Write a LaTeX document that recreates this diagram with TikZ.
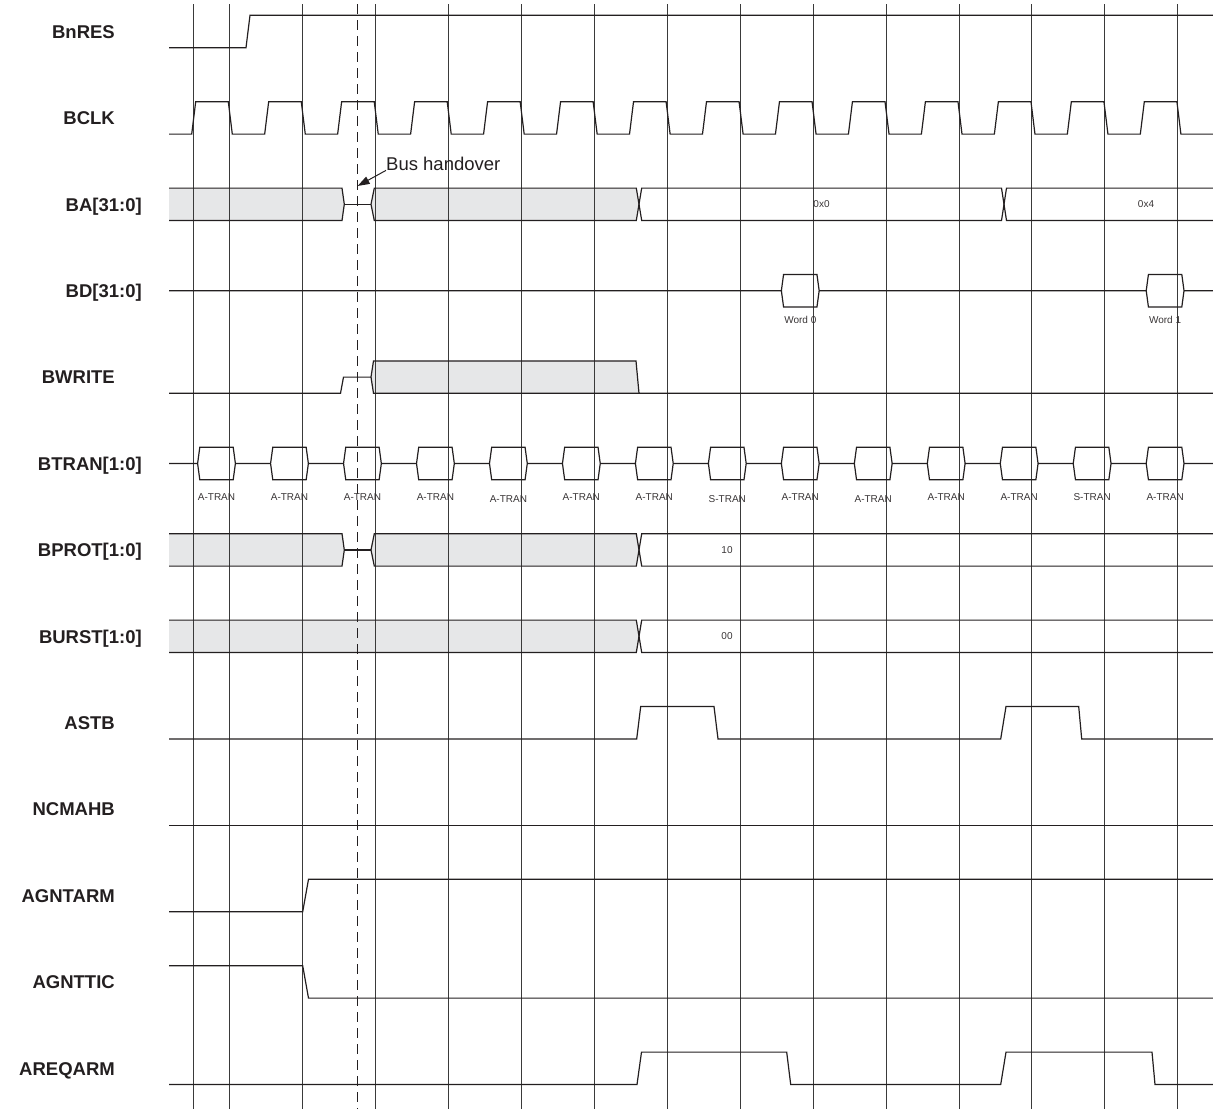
\documentclass[tikz,border=0pt]{standalone}
\usepackage{fontspec}
\setmainfont{Liberation Sans}
\usetikzlibrary{arrows.meta}
\definecolor{ink}{HTML}{231F20}
\definecolor{busgray}{HTML}{E6E7E8}
\definecolor{gridc}{HTML}{3A3A3A}
\begin{document}
\begin{tikzpicture}[x=1pt,y=-1pt, line join=miter,
  sig/.style={draw=ink, line width=1.2pt},
  gridline/.style={draw=gridc, line width=1pt},
  hidash/.style={draw=ink, line width=1pt, dash pattern=on 10pt off 6pt},
  lab/.style={anchor=base east, inner sep=0pt, text=ink, font=\fontsize{18.5}{20}\selectfont\bfseries},
  small/.style={anchor=base, inner sep=0pt, text=ink!90, font=\fontsize{10}{12}\selectfont},
  busfill/.style={fill=busgray, draw=none}]
\useasboundingbox (0,0) rectangle (1213,1112);

% ---- labels
\node[lab] (lBnRES)   at (115,38.3)   {BnRES};
\node[lab] (lBCLK)    at (115,124.7)  {BCLK};
\node[lab] (lBA)      at (142,211.1)  {BA[31:0]};
\node[lab] (lBD)      at (142,297.5)  {BD[31:0]};
\node[lab] (lBWRITE)  at (115,383.9)  {BWRITE};
\node[lab] (lBTRAN)   at (142,470.3)  {BTRAN[1:0]};
\node[lab] (lBPROT)   at (142,556.7)  {BPROT[1:0]};
\node[lab] (lBURST)   at (142,643.1)  {BURST[1:0]};
\node[lab] (lASTB)    at (115,729.5)  {ASTB};
\node[lab] (lNCMAHB)  at (115,815.9)  {NCMAHB};
\node[lab] (lAGNTARM) at (115,902.3)  {AGNTARM};
\node[lab] (lAGNTTIC) at (115,988.7)  {AGNTTIC};
\node[lab] (lAREQARM) at (115,1075.1) {AREQARM};

% ---- bus fills
\path[busfill] (169,188.1) -- (342,188.1) -- (344.3,204.3) -- (342,220.5) -- (169,220.5) -- cycle;
\path[busfill] (371,204.3) -- (374.3,188.1) -- (636.3,188.1) -- (639,204.3) -- (636.3,220.5) -- (374.3,220.5) -- cycle;
\path[busfill] (371,377.1) -- (373.5,360.9) -- (636,360.9) -- (639,393.3) -- (373.5,393.3) -- cycle;
\path[busfill] (169,533.7) -- (342,533.7) -- (344.3,549.9) -- (342,566.1) -- (169,566.1) -- cycle;
\path[busfill] (371,549.9) -- (374.3,533.7) -- (636.3,533.7) -- (639,549.9) -- (636.3,566.1) -- (374.3,566.1) -- cycle;
\path[busfill] (169,620.1) -- (636.3,620.1) -- (639,636.3) -- (636.3,652.5) -- (169,652.5) -- cycle;

% ---- grid
\draw[gridline] (193.3,4) -- (193.3,1109);
\foreach \k in {0,...,13} \draw[gridline] ({229.3+72.97*\k},4) -- ({229.3+72.97*\k},1109);
\draw[hidash] (357.3,4) -- (357.3,1109);

% ---- BnRES
\draw[sig] (169,47.7) -- (246,47.7) -- (250,15.3) -- (1213,15.3);
% ---- BCLK
\draw[sig] (169,134.1) \foreach \k in {0,...,13} {
  -- ({229.3+72.97*\k-37.6},134.1) -- ({229.3+72.97*\k-33.6},101.7)
  -- ({229.3+72.97*\k-1},101.7) -- ({229.3+72.97*\k+3},134.1) } -- (1213,134.1);
% ---- BA
\draw[sig] (169,188.1) -- (342,188.1) -- (344.3,204.3) -- (342,220.5) -- (169,220.5);
\draw[sig] (344.3,204.3) -- (371,204.3);
\draw[sig] (371,204.3) -- (374.3,188.1) -- (636.3,188.1) -- (641.7,220.5) -- (1001.5,220.5) -- (1006.5,188.1) -- (1213,188.1);
\draw[sig] (371,204.3) -- (374.3,220.5) -- (636.3,220.5) -- (641.7,188.1) -- (1001.5,188.1) -- (1006.5,220.5) -- (1213,220.5);
\node[small] (tA0) at (821.5,207.9) {0x0};
\node[small] (tA4) at (1146,207.9) {0x4};
% ---- BD
\draw[sig] (169,290.7) \foreach \k in {8,13} {
  -- ({216.5+72.97*\k-18.9},290.7) -- ({216.5+72.97*\k-16.7},274.5) -- ({216.5+72.97*\k+16.7},274.5)
  -- ({216.5+72.97*\k+18.9},290.7) -- ({216.5+72.97*\k+16.7},306.9) -- ({216.5+72.97*\k-16.7},306.9)
  -- ({216.5+72.97*\k-18.9},290.7) ({216.5+72.97*\k+18.9},290.7) } -- (1213,290.7);
\node[small] (tW0) at (800.3,323.6) {Word 0};
\node[small] (tW1) at (1165.1,323.6) {Word 1};
% ---- BWRITE
\draw[sig] (169,393.3) -- (340.5,393.3) -- (343.5,377.1) -- (371,377.1) -- (373.5,360.9) -- (636,360.9) -- (639,393.3) -- (1213,393.3);
\draw[sig] (371,377.1) -- (373.5,393.3) -- (639,393.3);
% ---- BTRAN
\draw[sig] (169,463.5) \foreach \k in {0,...,13} {
  -- ({216.5+72.97*\k-18.9},463.5) -- ({216.5+72.97*\k-16.7},447.3) -- ({216.5+72.97*\k+16.7},447.3)
  -- ({216.5+72.97*\k+18.9},463.5) -- ({216.5+72.97*\k+16.7},479.7) -- ({216.5+72.97*\k-16.7},479.7)
  -- ({216.5+72.97*\k-18.9},463.5) ({216.5+72.97*\k+18.9},463.5) } -- (1213,463.5);
\foreach \k/\t/\dy in {0/A/0,1/A/0,2/A/0,3/A/0,4/A/1.5,5/A/0,6/A/0,7/S/1.5,8/A/0,9/A/1.5,10/A/0,11/A/0,12/S/0,13/A/0}
  \node[small] (tT\k) at ({216.5+72.97*\k},{500.5+\dy}) {\t-TRAN};
% ---- BPROT
\draw[sig] (169,533.7) -- (342,533.7) -- (344.3,549.9) -- (342,566.1) -- (169,566.1);
\draw[sig] (344.3,549.9) -- (371,549.9);
\draw[sig] (371,549.9) -- (374.3,533.7) -- (636.3,533.7) -- (641.7,566.1) -- (1213,566.1);
\draw[sig] (371,549.9) -- (374.3,566.1) -- (636.3,566.1) -- (641.7,533.7) -- (1213,533.7);
\node[small] (tP) at (727,553.5) {10};
% ---- BURST
\draw[sig] (169,620.1) -- (636.3,620.1) -- (641.7,652.5) -- (1213,652.5);
\draw[sig] (169,652.5) -- (636.3,652.5) -- (641.7,620.1) -- (1213,620.1);
\node[small] (tB) at (727,639.9) {00};
% ---- ASTB
\draw[sig] (169,738.9) -- (636.7,738.9) -- (640.7,706.5) -- (714,706.5) -- (718,738.9) -- (1000.7,738.9) -- (1006,706.5) -- (1078.7,706.5) -- (1081.7,738.9) -- (1213,738.9);
% ---- NCMAHB
\draw[sig] (169,825.3) -- (1213,825.3);
% ---- AGNTARM
\draw[sig] (169,911.7) -- (302.7,911.7) -- (308.5,879.3) -- (1213,879.3);
% ---- AGNTTIC
\draw[sig] (169,965.7) -- (302.7,965.7) -- (308.5,998.1) -- (1213,998.1);
% ---- AREQARM
\draw[sig] (169,1084.5) -- (637,1084.5) -- (641.5,1052.1) -- (786.7,1052.1) -- (790.7,1084.5) -- (1000.7,1084.5) -- (1006,1052.1) -- (1152,1052.1) -- (1155,1084.5) -- (1213,1084.5);

% ---- bus handover annotation
\node[anchor=base west, inner sep=0pt, text=ink, font=\fontsize{18.5}{20}\selectfont] (bh) at (386,170) {Bus handover};
\coordinate (bhtip) at (357.6,186);
\draw[draw=ink, line width=1pt, -{Triangle[length=12pt,width=8pt]}] (bh.south west) -- (bhtip);
\end{tikzpicture}
\end{document}
